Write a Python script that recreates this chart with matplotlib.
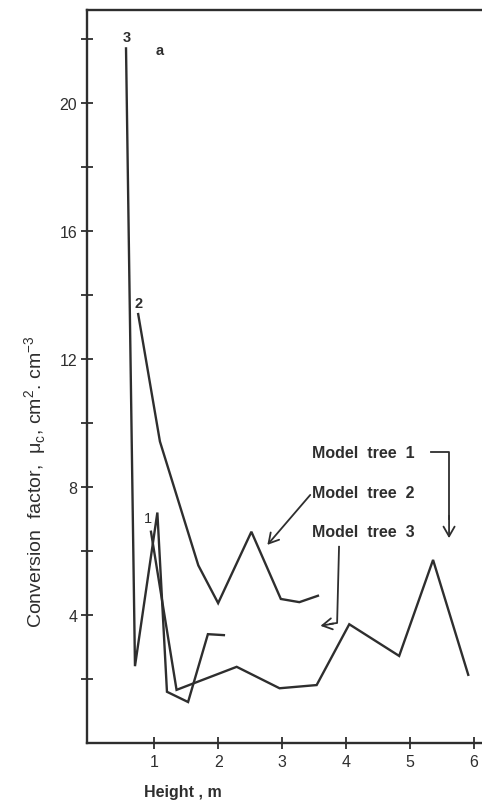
import matplotlib
matplotlib.use("Agg")
import matplotlib.pyplot as plt

plt.rcParams["font.family"] = ["Liberation Sans", "DejaVu Sans"]
plt.rcParams["mathtext.fontset"] = "custom"
plt.rcParams["mathtext.rm"] = "Liberation Sans"

# Conversion factor vs height for the three model trees
tree1_h = [0.95, 1.35, 2.29, 2.96, 3.54, 4.05, 4.83, 5.36, 5.91]
tree1_c = [6.6, 1.66, 2.38, 1.71, 1.81, 3.71, 2.72, 5.72, 2.13]

tree2_h = [0.75, 1.09, 1.69, 2.0, 2.52, 2.98, 3.27, 3.56]
tree2_c = [13.4, 9.42, 5.55, 4.37, 6.6, 4.5, 4.4, 4.6]

tree3_h = [0.56, 0.70, 1.05, 1.20, 1.53, 1.84, 2.09]
tree3_c = [21.7, 2.4, 7.2, 1.6, 1.28, 3.4, 3.37]

x_ticks = [1, 2, 3, 4, 5, 6]
y_major = [4, 8, 12, 16, 20]
y_minor = [2, 6, 10, 14, 18, 22]

ink = "#2e2e2e"

fig = plt.figure(figsize=(4.82, 8.04), dpi=100)
ax = fig.add_axes([87 / 482, 60 / 804, 1 - 87 / 482, 733 / 804])

for h, c in [(tree1_h, tree1_c), (tree2_h, tree2_c), (tree3_h, tree3_c)]:
    ax.plot(h, c, color=ink, lw=1.7, solid_joinstyle="miter")

ax.set_xlim(-0.05, 6.125)
ax.set_ylim(0, 22.9)

ax.set_xticks(x_ticks)
ax.set_yticks(y_major)
ax.set_yticks(y_minor, minor=True)
ax.tick_params(axis="both", which="both", direction="inout", color=ink,
               width=1.3, labelsize=11.5, labelcolor=ink)
ax.tick_params(axis="y", which="both", length=8, pad=3)
ax.tick_params(axis="x", length=8, pad=4)

for side in ["left", "bottom", "top"]:
    ax.spines[side].set_linewidth(1.7)
    ax.spines[side].set_color(ink)
ax.spines["right"].set_visible(False)

# curve numbers and panel letter
ax.text(0.57, 22.05, "3", fontsize=10.5, fontweight="bold", color=ink, ha="center", va="center")
ax.text(1.08, 21.66, "a", fontsize=10.5, fontweight="bold", color=ink, ha="center", va="center")
ax.text(0.76, 13.74, "2", fontsize=10.5, fontweight="bold", color=ink, ha="center", va="center")
ax.text(0.90, 7.02, "1", fontsize=10.5, color=ink, ha="center", va="center")

# model tree labels with pointer arrows
lbl = dict(fontsize=11.5, fontweight="bold", color=ink, ha="left", va="center")
ax.text(3.47, 9.09, "Model  tree  1", **lbl)
ax.text(3.47, 7.84, "Model  tree  2", **lbl)
ax.text(3.47, 6.60, "Model  tree  3", **lbl)

arr = dict(arrowstyle="->,head_length=0.7,head_width=0.4", color=ink, lw=1.3,
           shrinkA=0, shrinkB=0)
ax.plot([5.33, 5.61, 5.61], [9.09, 9.09, 7.0], color=ink, lw=1.3)
ax.annotate("", xy=(5.61, 6.4), xytext=(5.61, 7.1), arrowprops=arr)

ax.annotate("", xy=(2.77, 6.19), xytext=(3.44, 7.75), arrowprops=arr)

ax.plot([3.89, 3.86, 3.75], [6.13, 3.75, 3.72], color=ink, lw=1.3)
ax.annotate("", xy=(3.60, 3.66), xytext=(3.80, 3.73), arrowprops=arr)

ax.set_xlabel("Height , m", fontsize=11.5, fontweight="bold", color=ink, va="center")
ax.xaxis.set_label_coords((183 - 87) / 395, -(793 - 744) / 733)
ax.set_ylabel("Conversion  factor,  μ$_{\\rm c}$, cm$^{2}$. cm$^{-3}$",
              fontsize=14, color=ink, va="center")
ax.yaxis.set_label_coords(-(87 - 36) / 395, (744 - 482) / 733)

fig.savefig("out.png", dpi=100, facecolor="white")
